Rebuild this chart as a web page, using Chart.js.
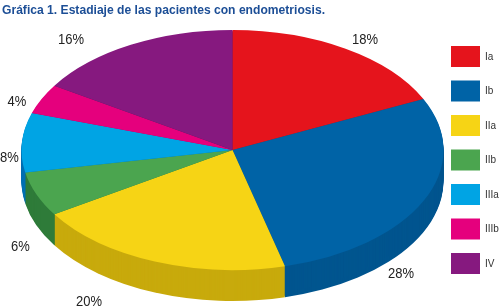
<!DOCTYPE html>
<html><head><meta charset="utf-8">
<script src="https://cdn.jsdelivr.net/npm/chart.js@4.4.1/dist/chart.umd.min.js"></script>
<style>html,body{margin:0;padding:0;background:#fff;overflow:hidden}</style>
</head><body>
<canvas id="c" width="500" height="308" style="display:block;width:500px;height:308px"></canvas>
<script>
// ---- data ----
const TITLE = 'Gráfica 1. Estadiaje de las pacientes con endometriosis.';
const categories = ['Ia', 'Ib', 'IIa', 'IIb', 'IIIa', 'IIIb', 'IV'];
const percentages = [18, 28, 20, 6, 8, 4, 16];

// ---- style ----
const topColors  = ['#E5141C', '#0063A6', '#F6D415', '#4BA54F', '#00A4E4', '#E5007D', '#86197F'];
const sideColors = ['#A80F15', '#00558F', '#C8AA0C', '#2E7B39', '#0070B2', '#A6005B', '#5E1259'];
const labelAnchors = [[365, 40], [401, 274], [89, 302], [20.5, 247], [9.5, 158], [17, 102], [71, 40]];
const PIE = { cx: 232.5, cy: 150, rx: 211, ry: 120, depth: 31 };
const LEGEND = { x: 451, y0: 56.5, step: 34.5, w: 29, h: 21, textX: 485 };

function mapCtx(ctx, arc, dy) {
  ctx.translate(PIE.cx, PIE.cy + dy);
  ctx.scale(PIE.rx / arc.outerRadius, PIE.ry / arc.outerRadius);
  ctx.translate(-arc.x, -arc.y);
}

function fitText(ctx, text, x, y, targetW, align) {
  const w = ctx.measureText(text).width;
  const s = Math.min(1, targetW / w);
  ctx.save();
  ctx.translate(x, y);
  ctx.scale(s, 1);
  ctx.textAlign = align;
  ctx.fillText(text, 0, 0);
  ctx.restore();
}

const pie3d = {
  id: 'pie3d',
  beforeDatasetsDraw(chart) {
    const ctx = chart.ctx;
    const arcs = chart.getDatasetMeta(0).data;
    const a0 = arcs[0];
    for (let d = PIE.depth; d >= 1; d--) {
      ctx.save();
      mapCtx(ctx, a0, d);
      arcs.forEach((a, i) => {
        ctx.beginPath();
        ctx.moveTo(a.x, a.y);
        ctx.arc(a.x, a.y, a.outerRadius, a.startAngle, a.endAngle);
        ctx.closePath();
        ctx.fillStyle = sideColors[i];
        ctx.fill();
      });
      ctx.restore();
    }
    ctx.save();
    mapCtx(ctx, a0, 0);
  },
  afterDatasetsDraw(chart) {
    chart.ctx.restore();
  },
  afterDraw(chart) {
    const ctx = chart.ctx;
    // title
    ctx.save();
    ctx.fillStyle = '#1C4E96';
    ctx.font = "bold 13px 'Liberation Sans Narrow', 'Liberation Sans', Arial, sans-serif";
    ctx.textBaseline = 'alphabetic';
    fitText(ctx, TITLE, 2, 14, 323, 'left');
    ctx.restore();

    // percentage labels
    ctx.save();
    ctx.fillStyle = '#222222';
    ctx.font = "15px 'Liberation Sans Narrow', 'Liberation Sans', Arial, sans-serif";
    ctx.textBaseline = 'middle';
    const ref = ctx.measureText('18%').width;
    const s = Math.min(1, 26 / ref);
    percentages.forEach((v, i) => {
      const t = v + '%';
      const [x, y] = labelAnchors[i];
      ctx.save();
      ctx.translate(x, y);
      ctx.scale(s, 1);
      ctx.textAlign = 'center';
      ctx.fillText(t, 0, 0);
      ctx.restore();
    });
    ctx.restore();

    // legend
    ctx.save();
    ctx.font = "10px 'Liberation Sans', Arial, sans-serif";
    ctx.textBaseline = 'middle';
    ctx.textAlign = 'left';
    categories.forEach((c, i) => {
      const yc = LEGEND.y0 + i * LEGEND.step;
      ctx.fillStyle = topColors[i];
      ctx.fillRect(LEGEND.x, yc - LEGEND.h / 2, LEGEND.w, LEGEND.h);
      ctx.fillStyle = '#333333';
      ctx.fillText(c, LEGEND.textX, yc + 0.5);
    });
    ctx.restore();
  }
};

new Chart(document.getElementById('c'), {
  type: 'pie',
  data: {
    labels: categories,
    datasets: [{
      data: percentages,
      backgroundColor: topColors,
      borderWidth: 0,
      clip: false
    }]
  },
  options: {
    responsive: false,
    animation: false,
    events: [],
    layout: { padding: 20 },
    plugins: {
      legend: { display: false },
      title: { display: false },
      tooltip: { enabled: false }
    }
  },
  plugins: [pie3d]
});
</script>
</body></html>
